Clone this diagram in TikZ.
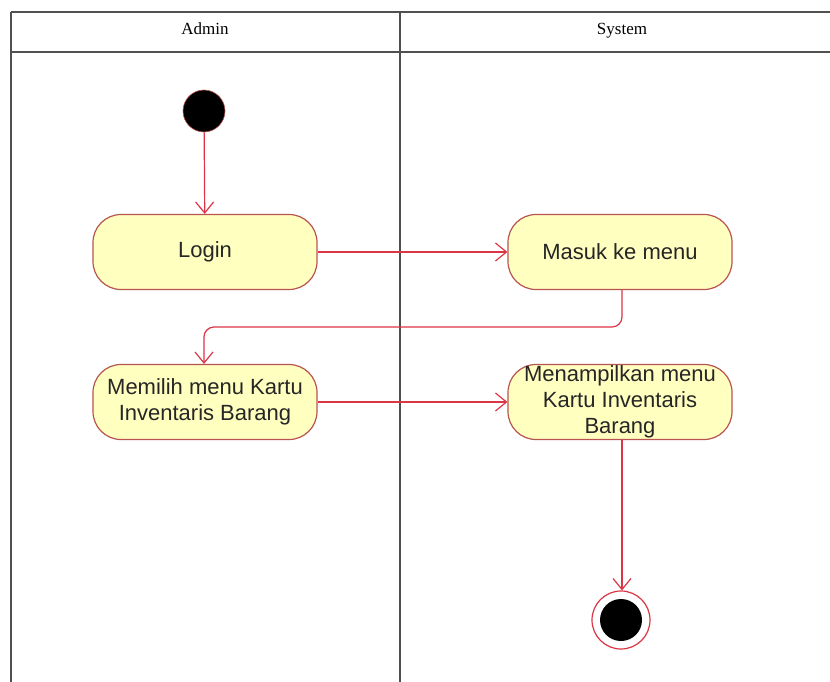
\documentclass[tikz,border=0pt]{standalone}
\usepackage{fontspec}
\setmainfont{Liberation Sans}
\newfontfamily\headfont{Liberation Serif}
\usetikzlibrary{arrows.meta}
\definecolor{lanecol}{HTML}{505050}
\definecolor{actfill}{HTML}{FFFFC0}
\definecolor{actline}{HTML}{B85450}
\definecolor{flowcol}{HTML}{DC3545}
\tikzset{
  lane/.style={draw=lanecol, line width=2.2pt},
  lanetitle/.style={font=\headfont\fontsize{17}{20}\selectfont, text=black, anchor=base},
  action/.style={draw=actline, fill=actfill, line width=1.2pt, rounded corners=28pt,
    minimum width=224pt, minimum height=75pt, inner sep=0pt, align=center,
    font=\fontsize{22}{26}\selectfont, text=black!85},
  flow/.style={draw=flowcol, line width=1.2pt, -{Straight Barb[length=11pt,width=18pt,line width=1.2pt]}},
  initial/.style={circle, fill=black, draw=actline, line width=0.6pt, minimum size=42pt, inner sep=0pt},
  finalring/.style={circle, draw=flowcol, line width=1.2pt, fill=white, minimum size=58pt, inner sep=0pt},
}
\begin{document}
\begin{tikzpicture}[x=1pt,y=-1pt]
  \useasboundingbox (0,0) rectangle (830,682);
  \fill[white] (0,0) rectangle (830,682);

  % swimlane frame
  \draw[lane] (11,12) -- (830,12);
  \draw[lane] (11,52) -- (830,52);
  \draw[lane] (11,12) -- (11,682);
  \draw[lane] (400,12) -- (400,682);
  \node[lanetitle] (admintitle) at (205,35) {Admin};
  \node[lanetitle] (systitle) at (622,35) {System};

  % activity nodes
  \node[initial] (start) at (204,111) {};
  \node[action] (login) at (205,252) {Login};
  \node[action] (masuk) at (620,252) {Masuk ke menu};
  \node[action] (memilih) at (205,402) {Memilih menu Kartu\\Inventaris Barang};
  \node[action] (tampil) at (620,402) {Menampilkan menu\\Kartu Inventaris\\Barang};
  \node[finalring] (final) at (621,620) {};
  \node[circle, fill=black, minimum size=42pt, inner sep=0pt] (finaldot) at (final) {};

  % control flow
  \draw[flow] (start) -- (login);
  \draw[flow] (login) -- (masuk);
  \draw[flow, rounded corners=10pt] (masuk.south -| 622,0) -- (622,327) -- (204,327) -- (memilih.north -| 204,0);
  \draw[flow] (memilih) -- (tampil);
  \draw[flow] (tampil.south -| 622,0) -- (final.north -| 622,0);
\end{tikzpicture}
\end{document}
